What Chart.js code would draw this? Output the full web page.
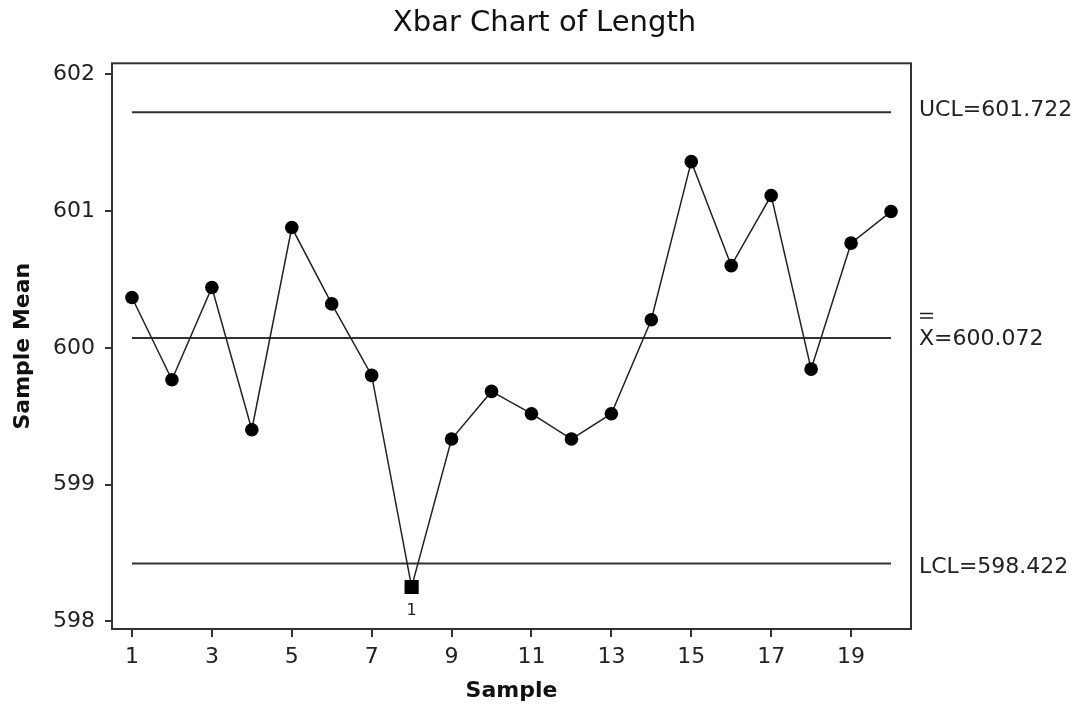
<!DOCTYPE html>
<html><head><meta charset="utf-8">
<script src="https://cdn.jsdelivr.net/npm/chart.js@4.4.1/dist/chart.umd.min.js"></script>
<style>html,body{margin:0;padding:0;background:#fff}#wrap{width:1079px;height:704px;position:relative}</style>
</head><body><div id="wrap"><canvas id="c"></canvas></div>
<script>
const samples = [1,2,3,4,5,6,7,8,9,10,11,12,13,14,15,16,17,18,19,20];
const sampleMeans = [600.368,599.766,600.441,599.401,600.879,600.321,599.798,598.251,599.333,599.681,
                     599.518,599.333,599.518,600.205,601.361,600.601,601.113,599.844,600.765,600.996];
const UCL = 601.722;
const CENTER = 600.072;
const LCL = 598.422;
const yTicks = [598,599,600,601,602];
const xTicks = [1,3,5,7,9,11,13,15,17,19];
const chartTitle = 'Xbar Chart of Length';
const xTitle = 'Sample';
const yTitle = 'Sample Mean';

const FONT = '"DejaVu Sans", Verdana, sans-serif';
const INK = '#222';

const seriesPts = samples.map((s,i)=>({x:s, y:sampleMeans[i]}));
const limitLine = v => [{x:samples[0], y:v},{x:samples[samples.length-1], y:v}];
const isOut = v => v > UCL || v < LCL;

const overlay = {
  id:'overlay',
  afterDraw(chart){
    const {ctx, chartArea:a, scales:{x:xs, y:ys}} = chart;
    ctx.save();
    ctx.strokeStyle = '#333';
    ctx.lineWidth = 2;
    ctx.strokeRect(a.left, a.top, a.right - a.left, a.bottom - a.top);
    ctx.fillStyle = INK;
    ctx.font = '22px ' + FONT;
    ctx.textAlign = 'left';
    ctx.textBaseline = 'alphabetic';
    const x0 = a.right + 8;
    ctx.fillText('UCL=' + UCL.toFixed(3), x0, ys.getPixelForValue(UCL) + 4);
    const yc = ys.getPixelForValue(CENTER) + 7;
    ctx.fillText('X', x0, yc);
    const wX = ctx.measureText('X').width;
    ctx.fillText('=' + CENTER.toFixed(3), x0 + wX, yc);
    ctx.lineWidth = 1.5;
    ctx.strokeStyle = INK;
    ctx.beginPath();
    ctx.moveTo(x0 + 1, yc - 31.5); ctx.lineTo(x0 + wX - 1, yc - 31.5);
    ctx.moveTo(x0 + 1, yc - 27); ctx.lineTo(x0 + wX - 1, yc - 27);
    ctx.stroke();
    ctx.fillText('LCL=' + LCL.toFixed(3), x0, ys.getPixelForValue(LCL) + 9);
    ctx.font = '16px ' + FONT;
    ctx.textAlign = 'center';
    sampleMeans.forEach((v,i)=>{
      if (isOut(v)) {
        const px = xs.getPixelForValue(samples[i]);
        const py = ys.getPixelForValue(v);
        ctx.fillText('1', px, v < LCL ? py + 28 : py - 16);
      }
    });
    ctx.restore();
  }
};

new Chart(document.getElementById('c'), {
  type:'line',
  data:{
    datasets:[
      {data:limitLine(UCL), borderColor:'#333', borderWidth:2, pointRadius:0, order:2},
      {data:limitLine(CENTER), borderColor:'#333', borderWidth:2, pointRadius:0, order:2},
      {data:limitLine(LCL), borderColor:'#333', borderWidth:2, pointRadius:0, order:2},
      {data:seriesPts, borderColor:INK, borderWidth:1.5, backgroundColor:'#000',
       pointBackgroundColor:'#000', pointBorderColor:'#000', pointBorderWidth:0,
       pointStyle: c => isOut(c.raw ? c.raw.y : 0) ? 'rect' : 'circle',
       pointRadius: c => isOut(c.raw ? c.raw.y : 0) ? 10 : 6.8,
       tension:0, order:1}
    ]
  },
  options:{
    responsive:true, maintainAspectRatio:false, animation:false,
    layout:{padding:{left:10, right:0, top:0, bottom:0}},
    plugins:{
      legend:{display:false}, tooltip:{enabled:false},
      title:{display:true, text:chartTitle, color:'#111',
        font:{family:FONT, size:29, weight:'normal'}, padding:{top:6, bottom:22.5}}
    },
    scales:{
      x:{type:'linear', min:0.5, max:20.5,
        afterBuildTicks: s => { s.ticks = xTicks.map(v=>({value:v})); },
        afterFit: s => { s.height = 75; },
        border:{display:false},
        grid:{display:true, drawOnChartArea:false, drawTicks:true, tickLength:8, color:'#333', lineWidth:2},
        ticks:{color:INK, font:{family:FONT, size:22}, padding:7, maxRotation:0, autoSkip:false},
        title:{display:true, text:xTitle, color:'#111', font:{family:FONT, size:22, weight:'bold'}, padding:{top:0, bottom:0}}
      },
      y:{type:'linear', position:'left', min:597.944, max:602.08,
        afterBuildTicks: s => { s.ticks = yTicks.map(v=>({value:v})); },
        afterFit: s => { s.width = 102; },
        border:{display:false},
        grid:{display:true, drawOnChartArea:false, drawTicks:true, tickLength:7, color:'#333', lineWidth:2},
        ticks:{color:INK, font:{family:FONT, size:22}, padding:10, autoSkip:false},
        title:{display:true, text:yTitle, color:'#111', font:{family:FONT, size:22, weight:'bold'}, padding:{top:0, bottom:0}}
      },
      y2:{type:'linear', position:'right', display:true,
        afterFit: s => { s.width = 168; },
        border:{display:false}, grid:{display:false}, ticks:{display:false}}
    }
  },
  plugins:[overlay]
});
</script></body></html>
